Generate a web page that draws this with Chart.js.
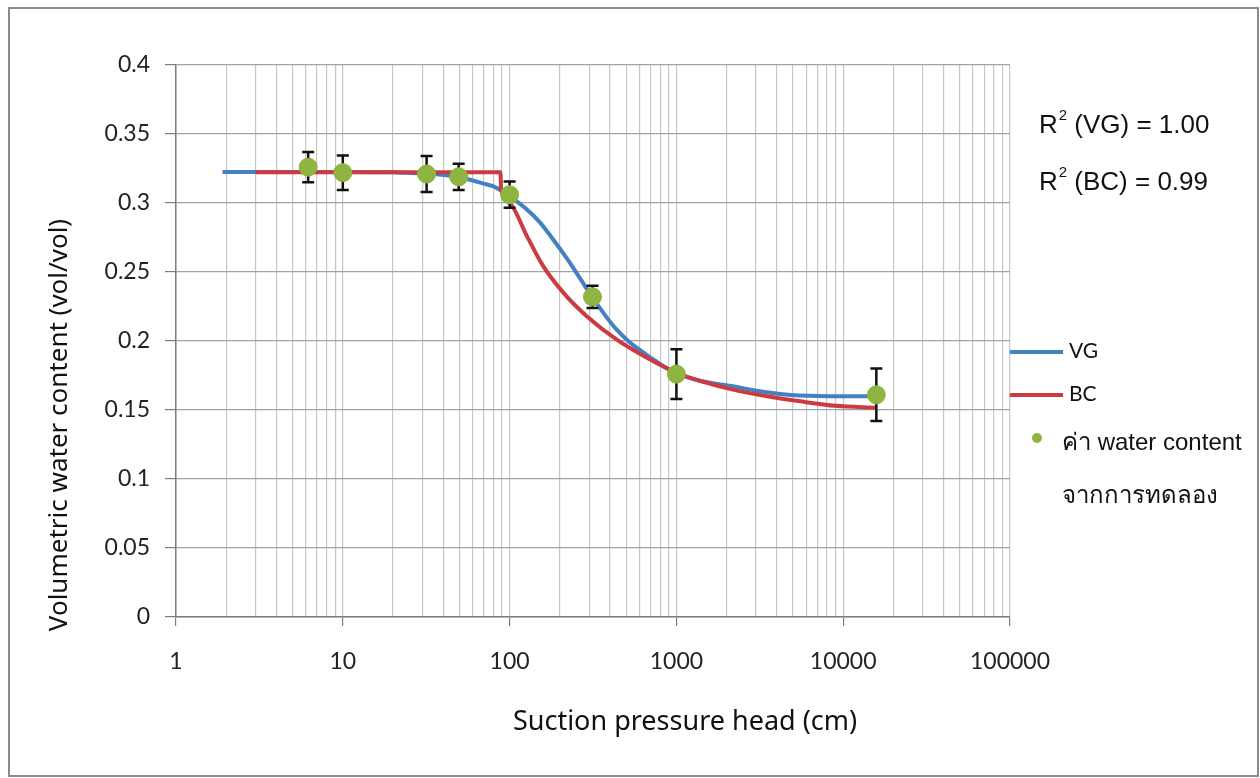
<!DOCTYPE html>
<html>
<head>
<meta charset="utf-8">
<script src="https://cdn.jsdelivr.net/npm/chart.js@4.4.1/dist/chart.umd.min.js"></script>
<style>
  html, body { margin: 0; padding: 0; background: #fff; }
  canvas { display: block; }
</style>
</head>
<body>
<canvas id="chart" width="1260" height="778"></canvas>
<script>
// suction head (cm) / water content (vol/vol)
const vgHead = [1.9, 5, 10, 20, 30, 45, 57, 70, 80, 100, 125, 152, 180, 220, 264, 316, 380, 440, 520, 620, 750, 1000, 1400, 2180, 3000, 5500, 10000, 15800];
const vgTheta = [0.3225, 0.3225, 0.3225, 0.3222, 0.3215, 0.3195, 0.317, 0.314, 0.312, 0.305, 0.296, 0.286, 0.2745, 0.260, 0.2455, 0.231, 0.2175, 0.208, 0.1995, 0.1925, 0.1855, 0.1765, 0.171, 0.1672, 0.164, 0.1605, 0.160, 0.160];

const bcHead = [3, 10, 30, 60, 88, 89, 100, 127, 159, 219, 290, 439, 695, 1000, 1400, 2180, 3500, 5510, 9000, 15800];
const bcTheta = [0.3222, 0.3222, 0.3222, 0.3222, 0.3222, 0.310, 0.300, 0.276, 0.2543, 0.2325, 0.218, 0.201, 0.1866, 0.177, 0.171, 0.1648, 0.160, 0.1563, 0.153, 0.1517];

const labHead = [6.2, 10, 31.8, 49.5, 100, 314, 1000, 15800];
const labTheta = [0.326, 0.322, 0.321, 0.319, 0.306, 0.232, 0.176, 0.161];
const labErr = [0.011, 0.0125, 0.013, 0.0095, 0.0095, 0.008, 0.018, 0.019];

const xMajor = [1, 10, 100, 1000, 10000, 100000];
const yTicks = [0, 0.05, 0.1, 0.15, 0.2, 0.25, 0.3, 0.35, 0.4];
const fitNames = ['VG', 'BC'];
const fitR2 = ['1.00', '0.99'];
const labLabel = ['ค่า water content', 'จากการทดลอง'];

const BLUE = '#4580c2';
const RED = '#cc3b42';
const GREEN = '#8db53f';

const toPoints = (xs, ys) => xs.map((x, i) => ({ x: x, y: ys[i] }));

const errorBars = {
  id: 'errorBars',
  beforeDatasetDraw(chart, args) {
    if (args.index !== 2) return;
    const ctx = chart.ctx;
    const sx = chart.scales.x;
    const sy = chart.scales.y;
    ctx.save();
    ctx.strokeStyle = '#111';
    ctx.lineWidth = 2.5;
    labHead.forEach((h, i) => {
      const px = sx.getPixelForValue(h);
      const top = sy.getPixelForValue(labTheta[i] + labErr[i]);
      const bot = sy.getPixelForValue(labTheta[i] - labErr[i]);
      ctx.beginPath();
      ctx.moveTo(px, top); ctx.lineTo(px, bot);
      ctx.moveTo(px - 6, top); ctx.lineTo(px + 6, top);
      ctx.moveTo(px - 6, bot); ctx.lineTo(px + 6, bot);
      ctx.stroke();
    });
    ctx.restore();
  }
};

const decorations = {
  id: 'decorations',
  beforeDraw(chart) {
    const ctx = chart.ctx;
    ctx.save();
    ctx.fillStyle = '#fff';
    ctx.fillRect(0, 0, chart.width, chart.height);
    ctx.restore();
  },
  afterDraw(chart) {
    const ctx = chart.ctx;
    const ds = chart.data.datasets;
    ctx.save();

    // outer frame
    ctx.strokeStyle = '#8a8a8a';
    ctx.lineWidth = 2;
    ctx.strokeRect(9, 8, 1249, 768);

    // axis titles
    ctx.fillStyle = '#111';
    ctx.textAlign = 'center';
    ctx.textBaseline = 'middle';
    ctx.font = '27px "Noto Sans"';
    ctx.fillText('Suction pressure head (cm)', 685, 722);
    ctx.save();
    ctx.translate(60, 425);
    ctx.rotate(-Math.PI / 2);
    ctx.font = '26px "Noto Sans"';
    ctx.fillText('Volumetric water content (vol/vol)', 0, 0);
    ctx.restore();

    // R² notes
    ctx.textAlign = 'left';
    ctx.textBaseline = 'alphabetic';
    fitNames.forEach((name, i) => {
      const base = 133 + i * 57;
      let x = 1039;
      ctx.font = '26px "Liberation Sans"';
      ctx.fillText('R', x, base);
      x += ctx.measureText('R').width;
      ctx.font = '15px "Liberation Sans"';
      ctx.fillText('2', x + 1, base - 13);
      x += ctx.measureText('2').width + 1;
      ctx.font = '26px "Liberation Sans"';
      ctx.fillText(' (' + name + ') = ' + fitR2[i], x, base);
    });

    // legend
    ctx.lineWidth = 4;
    ctx.font = '21px Lato';
    ctx.textBaseline = 'middle';
    [0, 1].forEach((i) => {
      const y = 352 + i * 43;
      ctx.strokeStyle = ds[i].borderColor;
      ctx.beginPath();
      ctx.moveTo(1010, y);
      ctx.lineTo(1063, y);
      ctx.stroke();
      ctx.fillText(ds[i].label, 1069, y - 1);
    });
    ctx.fillStyle = ds[2].backgroundColor;
    ctx.beginPath();
    ctx.arc(1037, 438, 5, 0, Math.PI * 2);
    ctx.fill();
    ctx.fillStyle = '#111';
    ctx.font = '24px "Liberation Sans", "DejaVu Sans", sans-serif';
    ctx.textBaseline = 'alphabetic';
    ctx.fillText(labLabel[0], 1062, 450);
    ctx.fillText(labLabel[1], 1062, 503);
    ctx.restore();
  }
};

new Chart(document.getElementById('chart'), {
  type: 'line',
  data: {
    datasets: [{
      label: fitNames[0],
      data: toPoints(vgHead, vgTheta),
      borderColor: BLUE,
      borderWidth: 4,
      pointRadius: 0,
      cubicInterpolationMode: 'monotone',
      order: 2
    }, {
      label: fitNames[1],
      data: toPoints(bcHead, bcTheta),
      borderColor: RED,
      borderWidth: 4,
      pointRadius: 0,
      cubicInterpolationMode: 'monotone',
      order: 1
    }, {
      label: labLabel.join(' '),
      data: toPoints(labHead, labTheta),
      showLine: false,
      pointRadius: 9,
      pointBackgroundColor: GREEN,
      pointBorderColor: GREEN,
      backgroundColor: GREEN,
      order: 0
    }]
  },
  options: {
    responsive: false,
    animation: false,
    devicePixelRatio: 1,
    layout: { padding: { left: 40, right: 250, top: 65, bottom: 0 } },
    plugins: { legend: { display: false }, tooltip: { enabled: false } },
    scales: {
      x: {
        type: 'logarithmic',
        min: 1,
        max: 100000,
        afterBuildTicks: (scale) => {
          const ticks = [];
          xMajor.forEach((m) => {
            if (m === 100000) {
              ticks.push({ value: m });
              return;
            }
            for (let k = 1; k < 10; k++) ticks.push({ value: m * k });
          });
          scale.ticks = ticks;
        },
        afterFit: (scale) => { scale.height = 161; },
        border: { color: '#7e7e7e', width: 1.5 },
        grid: {
          color: '#c6c6c6',
          lineWidth: 1.2,
          tickLength: 9,
          tickColor: (c) => (c.tick && xMajor.includes(c.tick.value) ? '#7e7e7e' : 'rgba(0,0,0,0)')
        },
        ticks: {
          autoSkip: false,
          maxRotation: 0,
          padding: 22,
          color: '#222',
          font: { family: 'Lato', size: 23 },
          callback: (v) => (xMajor.includes(v) ? String(v) : '')
        }
      },
      y: {
        min: 0,
        max: 0.4,
        afterBuildTicks: (scale) => { scale.ticks = yTicks.map((v) => ({ value: v })); },
        afterFit: (scale) => { scale.width = 136; },
        border: { color: '#7e7e7e', width: 1.5 },
        grid: { color: '#a2a2a2', lineWidth: 1.2, tickLength: 11, tickColor: '#7e7e7e' },
        ticks: {
          padding: 15,
          color: '#222',
          font: { family: 'Lato', size: 23 },
          callback: (v) => String(Number(v.toFixed(2)))
        }
      }
    }
  },
  plugins: [errorBars, decorations]
});
</script>
</body>
</html>
